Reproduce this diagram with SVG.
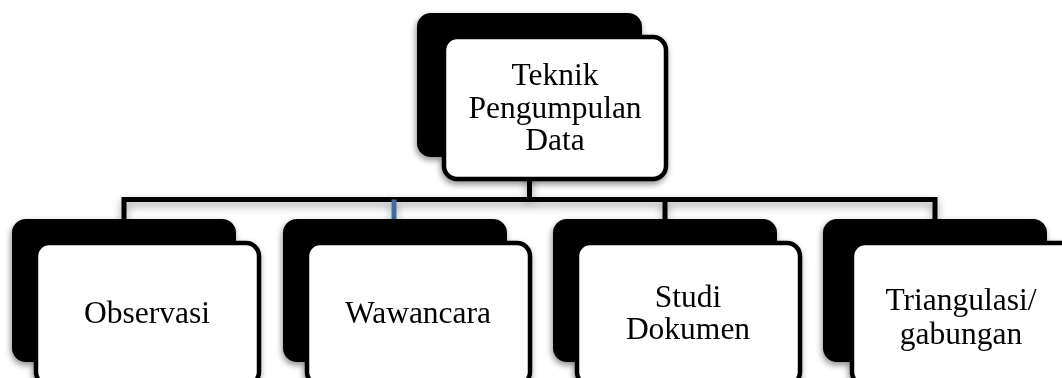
<svg xmlns="http://www.w3.org/2000/svg" width="1062" height="378" viewBox="0 0 1062 378">
<defs>
<filter id="sh" x="-20%" y="-20%" width="140%" height="140%">
<feDropShadow dx="-1" dy="3" stdDeviation="3" flood-color="#000" flood-opacity="0.45"/>
</filter>
<filter id="lsh" x="-5%" y="-100%" width="110%" height="400%">
<feDropShadow dx="0" dy="4" stdDeviation="4" flood-color="#000" flood-opacity="0.4"/>
</filter>
</defs>
<style>
.back{fill:#000;stroke:#000;stroke-width:2}
.front{fill:#fff;stroke:#000;stroke-width:4.5}
.lbl{font-family:"Liberation Serif","Times New Roman",serif;font-size:31.5px;fill:#000;text-anchor:middle}
.conn{fill:none;stroke:#000;stroke-width:5;stroke-linejoin:miter}
</style>
<rect width="1062" height="378" fill="#fff"/>
<g id="connectors" filter="url(#lsh)">
<path class="conn" d="M529.5,157 V199.5"/>
<path class="conn" d="M124,219 V199.5 H935 V219"/>
<path class="conn" d="M665,199.5 V219"/>
<path class="conn" d="M394,199.5 V219" style="stroke:#41699c"/>
</g>
<g id="node-top" filter="url(#sh)">
<rect class="back" x="418" y="14" width="223" height="142" rx="13"/>
<rect class="front" x="444" y="37" width="222" height="142" rx="13"/>
<text class="lbl" x="555" y="85">Teknik</text>
<text class="lbl" x="555" y="117.5">Pengumpulan</text>
<text class="lbl" x="555" y="150">Data</text>
</g>
<g id="node-observasi" filter="url(#sh)">
<rect class="back" x="13" y="220" width="222" height="141" rx="13"/>
<rect class="front" x="36" y="243" width="223" height="142" rx="13"/>
<text class="lbl" x="147" y="323">Observasi</text>
</g>
<g id="node-wawancara" filter="url(#sh)">
<rect class="back" x="284" y="220" width="222" height="141" rx="13"/>
<rect class="front" x="307" y="243" width="223" height="142" rx="13"/>
<text class="lbl" x="418" y="323">Wawancara</text>
</g>
<g id="node-studi" filter="url(#sh)">
<rect class="back" x="554" y="220" width="222" height="141" rx="13"/>
<rect class="front" x="577" y="243" width="223" height="142" rx="13"/>
<text class="lbl" x="688" y="307">Studi</text>
<text class="lbl" x="688" y="339">Dokumen</text>
</g>
<g id="node-triangulasi" filter="url(#sh)">
<rect class="back" x="824" y="220" width="222" height="141" rx="13"/>
<rect class="front" x="852" y="243" width="223" height="142" rx="13"/>
<text class="lbl" x="961" y="310">Triangulasi/</text>
<text class="lbl" x="961" y="344">gabungan</text>
</g>
</svg>
